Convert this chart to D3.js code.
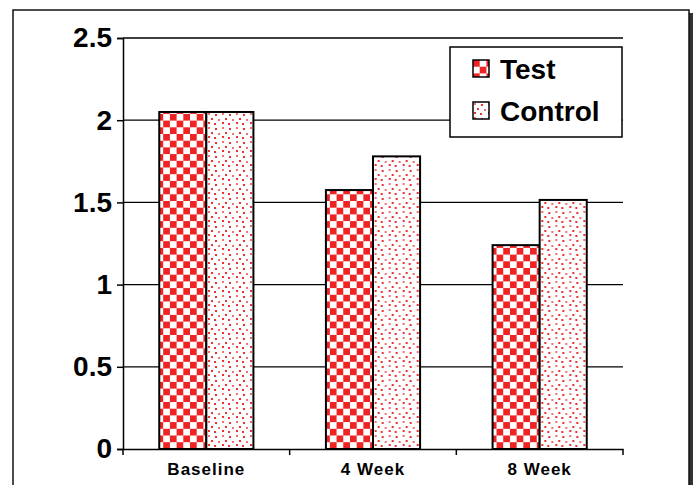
<!DOCTYPE html>
<html>
<head>
<meta charset="utf-8">
<script src="https://cdn.jsdelivr.net/npm/d3@7"></script>
<style>
  body { margin: 0; background: #fff; }
  svg { display: block; font-family: Arial, "Liberation Sans", sans-serif; }
</style>
</head>
<body>
<svg width="697" height="485"></svg>
<script>
const categories = ["Baseline", "4 Week", "8 Week"];
const seriesNames = ["Test", "Control"];
const testValues = [2.05, 1.575, 1.24];
const controlValues = [2.05, 1.78, 1.515];
const yTicks = [0, 0.5, 1, 1.5, 2, 2.5];
const yTickLabels = ["0", "0.5", "1", "1.5", "2", "2.5"];

const svg = d3.select("svg");
const margin = { left: 123, right: 74, top: 38, bottom: 36 };
const width = 697, height = 485;

// outer frame with a little shadow on the right
svg.append("rect").attr("x", 16).attr("y", 13).attr("width", 677).attr("height", 490).attr("fill", "#333");
svg.append("rect").attr("x", 13).attr("y", 10).attr("width", 676).attr("height", 490)
  .attr("fill", "#fff").attr("stroke", "#111").attr("stroke-width", 1.5);

// patterns
const defs = svg.append("defs");
const red = "#ee2424";
const checker = defs.append("pattern").attr("id", "checker")
  .attr("patternUnits", "userSpaceOnUse").attr("width", 13.4).attr("height", 13.4);
checker.append("rect").attr("width", 13.4).attr("height", 13.4).attr("fill", "#fff");
checker.append("rect").attr("width", 6.7).attr("height", 6.7).attr("fill", red);
checker.append("rect").attr("x", 6.7).attr("y", 6.7).attr("width", 6.7).attr("height", 6.7).attr("fill", red);

const dots = defs.append("pattern").attr("id", "dots")
  .attr("patternUnits", "userSpaceOnUse").attr("width", 14).attr("height", 14);
dots.append("rect").attr("width", 14).attr("height", 14).attr("fill", "#fff");
[[1, 1], [8, 2], [4, 6], [11, 7], [1, 10], [7, 11]].forEach(([x, y], i) => {
  dots.append("rect").attr("x", x).attr("y", y).attr("width", 2).attr("height", 2)
    .attr("fill", i % 3 === 0 ? "#f27070" : "#ee3030");
});

const x = d3.scaleBand().domain(categories).range([margin.left, width - margin.right]);
const x1 = d3.scaleBand().domain(seriesNames).range([0, x.bandwidth()]).paddingInner(0).paddingOuter(0.77);
const y = d3.scaleLinear().domain([0, 2.5]).range([height - margin.bottom, margin.top]);

// gridlines
svg.append("g").selectAll("line").data(yTicks.slice(1)).join("line")
  .attr("x1", margin.left).attr("x2", width - margin.right)
  .attr("y1", d => y(d)).attr("y2", d => y(d))
  .attr("stroke", "#000").attr("stroke-width", 1.3);

// bars
const rows = categories.map((c, i) => ({ cat: c, vals: [testValues[i], controlValues[i]] }));
const fills = ["url(#checker)", "url(#dots)"];
svg.append("g").selectAll("g").data(rows).join("g")
  .attr("transform", d => `translate(${x(d.cat)},0)`)
  .selectAll("rect").data(d => d.vals.map((v, j) => ({ v, s: seriesNames[j], j })))
  .join("rect")
  .attr("x", d => x1(d.s)).attr("width", x1.bandwidth())
  .attr("y", d => y(d.v)).attr("height", d => y(0) - y(d.v))
  .attr("fill", d => fills[d.j]).attr("stroke", "#000").attr("stroke-width", 2);

// y axis
const yAxis = svg.append("g").attr("transform", `translate(${margin.left},0)`)
  .call(d3.axisLeft(y).tickValues(yTicks).tickFormat((d, i) => yTickLabels[i]).tickSize(6).tickPadding(5));
yAxis.select(".domain").attr("stroke-width", 1.5);
yAxis.selectAll(".tick line").attr("stroke-width", 1.5);
yAxis.selectAll("text").attr("font-size", 28).attr("font-weight", "bold").attr("fill", "#000")
  .attr("font-family", "Arial, 'Liberation Sans', sans-serif");

// x axis
const xAxis = svg.append("g").attr("transform", `translate(0,${y(0)})`)
  .call(d3.axisBottom(x).tickSize(0).tickPadding(14));
xAxis.select(".domain").attr("stroke-width", 1.5);
xAxis.selectAll("text").attr("font-size", 17).attr("font-weight", "bold").attr("fill", "#000")
  .attr("font-family", "Arial, 'Liberation Sans', sans-serif").attr("letter-spacing", 1);
// category boundary ticks
const edges = categories.map(c => x(c)).concat([x.range()[1]]);
xAxis.selectAll(".edge").data(edges).join("line").attr("class", "edge")
  .attr("x1", d => d).attr("x2", d => d).attr("y1", 0).attr("y2", 6)
  .attr("stroke", "#000").attr("stroke-width", 1.5);

// legend
const legend = svg.append("g").attr("transform", "translate(450,47)");
legend.append("rect").attr("width", 172).attr("height", 90)
  .attr("fill", "#fff").attr("stroke", "#000").attr("stroke-width", 1.5);
seriesNames.forEach((s, i) => {
  const g = legend.append("g").attr("transform", `translate(23,${13 + i * 42})`);
  g.append("rect").attr("width", 16).attr("height", 17).attr("fill", fills[i])
    .attr("stroke", "#000").attr("stroke-width", 1.5);
  g.append("text").attr("x", 27).attr("y", 19).text(s)
    .attr("font-size", 28).attr("font-weight", "bold");
});
</script>
</body>
</html>
